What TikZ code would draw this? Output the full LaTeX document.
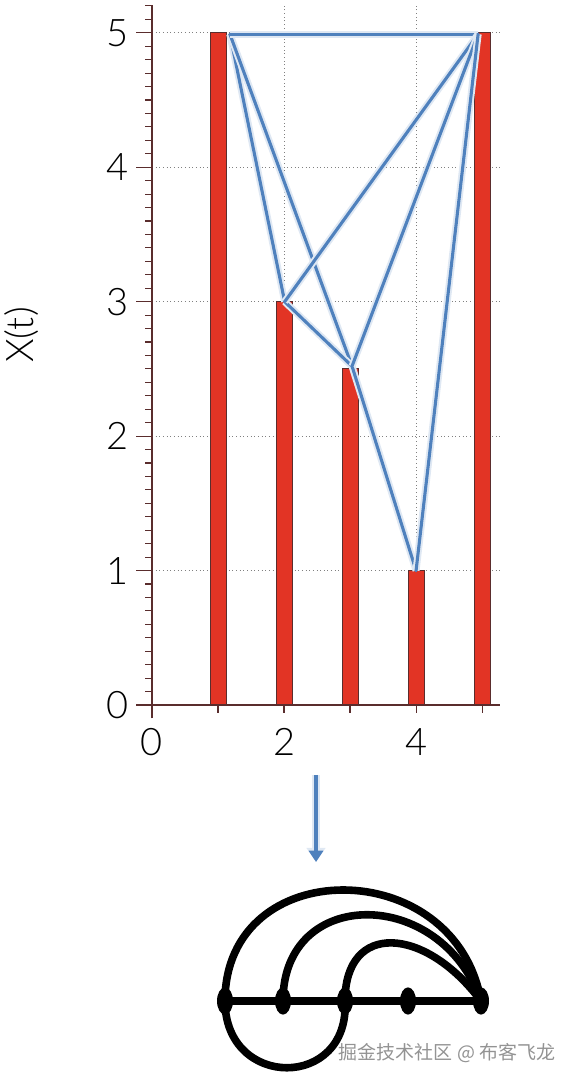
\documentclass[tikz,border=0pt]{standalone}
\usepackage{fontspec}
\setmainfont{Lato}[UprightFont=* Light]
\newfontfamily\cjk{Noto Sans CJK SC}
\usetikzlibrary{arrows.meta,shapes.geometric}
\definecolor{barred}{RGB}{226,52,37}
\definecolor{edgeblue}{RGB}{79,129,189}
\definecolor{axisbrown}{RGB}{90,45,45}
\begin{document}
\begin{tikzpicture}[x=0.025cm, y=0.025cm, every node/.style={font=\fontsize{27}{30}\selectfont},
	bar/.style={draw=axisbrown, line width=0.6pt, fill=barred},
	gridline/.style={gray, dotted, line width=0.6pt},
	axisline/.style={axisbrown, line width=0.8pt},
	vis/.style={edgeblue, line width=2.2pt, line cap=round, preaction={draw=edgeblue!18, line width=5pt}},
	vtx/.style={ellipse, fill=black, minimum width=0.4cm, minimum height=0.68cm, inner sep=0pt},
	arc/.style={line width=0.19cm}]
	\useasboundingbox (0,0) rectangle (580,1086);
	\begin{scope}[shift={(152,381)}, x=1.65cm, y=3.36cm]
		\foreach \k in {1,...,5} \draw[gridline] (0,\k) -- (5.27,\k);
		\foreach \k in {2,4} \draw[gridline] (\k,0) -- (\k,5.21);
		\foreach \i/\h in {1/5,2/3,3/2.5,4/1,5/5} \draw[bar] (\i-0.12,0) rectangle (\i+0.12,\h);
		\draw[axisline] (-0.24,0) -- (5.27,0);
		\draw[axisline] (0,-0.1) -- (0,5.21);
		\foreach \k in {0,...,52} \draw[axisline] (-0.1,\k/10) -- (0,\k/10);
		\foreach \k in {0,...,5} {
			\draw[axisline] (-0.24,\k) -- (0,\k);
			\node (ylab\k) at (-0.52,\k) {\k};
		}
		\foreach \k in {1,...,5} \draw[axisline] (\k,0) -- (\k,-0.06);
		\foreach \k in {0,2,4} \node (xlab\k) at (\k,-0.275) {\k};
		\coordinate (p1) at (1.18,4.99);
		\coordinate (p2) at (2.01,3);
		\coordinate (p3) at (3.03,2.52);
		\coordinate (p4) at (4,1);
		\coordinate (p5) at (4.94,4.99);
		\foreach \a/\b in {1/2,1/3,1/5,2/3,2/5,3/4,3/5,4/5} \draw[vis] (p\a) -- (p\b);
	\end{scope}
	\node[rotate=90] (ylabel) at (22,751) {X(t)};
	\coordinate (arrtop) at (316,311);
	\coordinate (arrtip) at (316,224);
	\draw[edgeblue, line width=2.6pt, -{Triangle[width=10pt,length=8pt]}, preaction={draw=edgeblue!18, line width=5pt, -{Triangle[width=13pt,length=10pt]}}] (arrtop) -- (arrtip);
	\foreach \i/\x in {1/225,2/283,3/345,4/408,5/481} \node[vtx] (v\i) at (\x,85) {};
	\draw[line width=0.2cm] (v1.center) -- (v5.center);
	\draw[arc] (v1.center) .. controls (225,233) and (455,233) .. (v5.center);
	\draw[arc] (v2.center) .. controls (283,200) and (441,200) .. (v5.center);
	\draw[arc] (v3.center) .. controls (345,165) and (425,160) .. (v5.center);
	\draw[arc] (v1.center) .. controls (225,-4) and (350,-4) .. (v3.center);
	\node[font=\cjk\fontsize{13.5}{16}\selectfont, text=gray!85] (mark) at (447,33) {掘金技术社区 @ 布客飞龙};
\end{tikzpicture}
\end{document}
